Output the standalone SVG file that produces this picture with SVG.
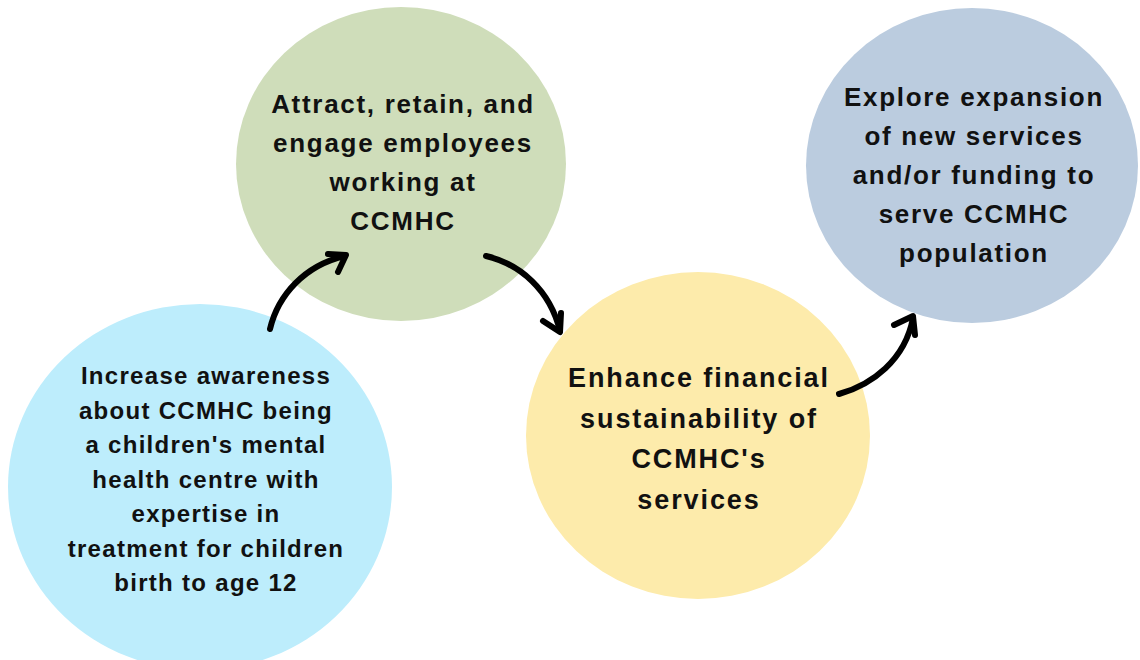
<svg xmlns="http://www.w3.org/2000/svg" width="1140" height="660" viewBox="0 0 1140 660">
  <style>
    .lbl { font-family: "Liberation Sans", Arial, sans-serif; font-weight: bold; fill: #111111; text-anchor: middle; }
    .s24 { font-size: 24px; letter-spacing: 1.3px; }
    .s26 { font-size: 26px; letter-spacing: 1.7px; }
    .s27 { font-size: 27px; letter-spacing: 1.9px; }
    .arrow { fill: none; stroke: #000000; stroke-width: 6; stroke-linecap: round; stroke-linejoin: round; }
  </style>
  <rect width="1140" height="660" fill="#ffffff"/>

  <!-- Goal bubbles -->
  <g id="goal-awareness">
    <ellipse cx="200" cy="487" rx="192" ry="183" fill="#BDEDFC"/>
    <text class="lbl s24" x="206" y="384">Increase awareness</text>
    <text class="lbl s24" x="206" y="418.5">about CCMHC being</text>
    <text class="lbl s24" x="206" y="453">a children's mental</text>
    <text class="lbl s24" x="206" y="487.5">health centre with</text>
    <text class="lbl s24" x="206" y="522">expertise in</text>
    <text class="lbl s24" x="206" y="556.5">treatment for children</text>
    <text class="lbl s24" x="206" y="591">birth to age 12</text>
  </g>

  <g id="goal-employees">
    <ellipse cx="401" cy="164" rx="165" ry="157" fill="#CFDDBA"/>
    <text class="lbl s26" x="403" y="113">Attract, retain, and</text>
    <text class="lbl s26" x="403" y="152">engage employees</text>
    <text class="lbl s26" x="403" y="191">working at</text>
    <text class="lbl s26" x="403" y="230">CCMHC</text>
  </g>

  <g id="goal-financial">
    <ellipse cx="698" cy="435.5" rx="172" ry="163.5" fill="#FDEBAB"/>
    <text class="lbl s27" x="699" y="387">Enhance financial</text>
    <text class="lbl s27" x="699" y="427.5">sustainability of</text>
    <text class="lbl s27" x="699" y="468">CCMHC's</text>
    <text class="lbl s27" x="699" y="508.5">services</text>
  </g>

  <g id="goal-expansion">
    <ellipse cx="972" cy="165.5" rx="166" ry="157.5" fill="#BBCCDF"/>
    <text class="lbl s26" x="974" y="106">Explore expansion</text>
    <text class="lbl s26" x="974" y="145">of new services</text>
    <text class="lbl s26" x="974" y="184">and/or funding to</text>
    <text class="lbl s26" x="974" y="223">serve CCMHC</text>
    <text class="lbl s26" x="974" y="262">population</text>
  </g>

  <!-- Connectors -->
  <g id="connectors">
    <path class="arrow" d="M270,329 C278,295 305,265 345,256"/>
    <polyline class="arrow" points="328,254 346,255 338,272"/>

    <path class="arrow" d="M486,256 C520,264 550,290 560,331"/>
    <polyline class="arrow" points="543,321 560,332 561,313"/>

    <path class="arrow" d="M839,394 C872,385 905,360 913,318"/>
    <polyline class="arrow" points="894,325 913,316 915,335"/>
  </g>
</svg>
